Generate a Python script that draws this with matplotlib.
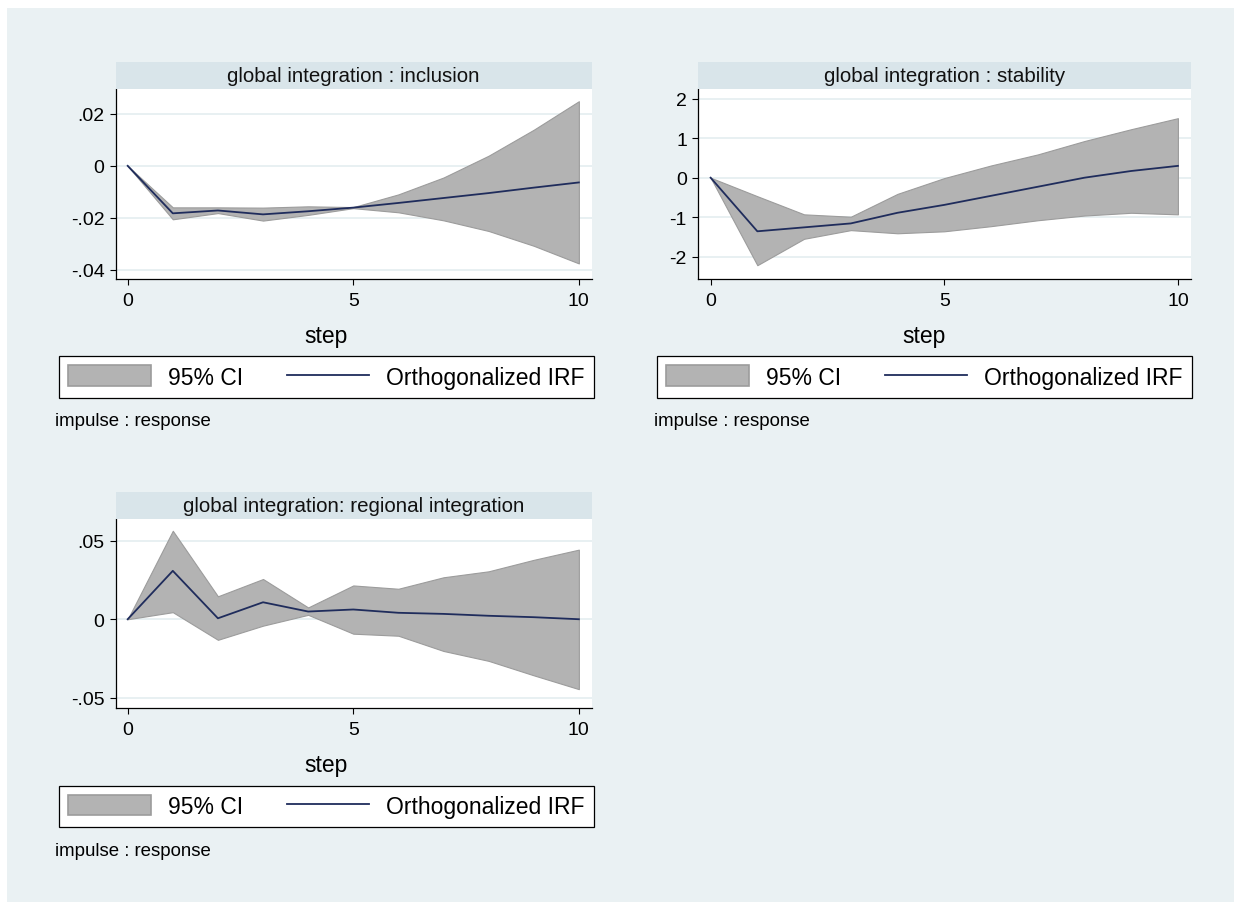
import matplotlib
matplotlib.use('Agg')
import matplotlib.pyplot as plt
from matplotlib.patches import Patch, Rectangle
from matplotlib.lines import Line2D
from matplotlib.ticker import FuncFormatter

plt.rcParams['font.family'] = ['Liberation Sans', 'DejaVu Sans']

# Datos (pasos 0..10)
steps = list(range(11))

incl_irf = [0, -0.0183, -0.0172, -0.0187, -0.0175, -0.0161, -0.0143, -0.0124, -0.0105, -0.0084, -0.0064]
incl_lo = [0, -0.0206, -0.0182, -0.0211, -0.0189, -0.0163, -0.0179, -0.0210, -0.0251, -0.0308, -0.0376]
incl_hi = [0, -0.0160, -0.0160, -0.0161, -0.0156, -0.0159, -0.0110, -0.0045, 0.0039, 0.0139, 0.0249]

stab_irf = [0, -1.36, -1.26, -1.16, -0.89, -0.69, -0.46, -0.23, 0.0, 0.17, 0.30]
stab_lo = [0, -2.22, -1.55, -1.33, -1.41, -1.36, -1.23, -1.08, -0.96, -0.89, -0.93]
stab_hi = [0, -0.47, -0.93, -0.99, -0.41, -0.01, 0.31, 0.59, 0.93, 1.23, 1.51]

reg_irf = [0, 0.0308, 0.0006, 0.0108, 0.0049, 0.0062, 0.0041, 0.0034, 0.0022, 0.0013, 0.0]
reg_lo = [0, 0.0045, -0.0131, -0.0041, 0.0028, -0.0092, -0.0105, -0.0202, -0.0265, -0.0357, -0.0445]
reg_hi = [0, 0.0563, 0.0146, 0.0256, 0.0075, 0.0215, 0.0194, 0.0267, 0.0305, 0.0378, 0.0443]

titles = ['global integration : inclusion',
          'global integration : stability',
          'global integration: regional integration']
yticks = [[-0.04, -0.02, 0, 0.02], [-2, -1, 0, 1, 2], [-0.05, 0, 0.05]]
ylims = [(-0.0436, 0.0296), (-2.57, 2.25), (-0.0565, 0.0638)]
series = [(incl_lo, incl_hi, incl_irf), (stab_lo, stab_hi, stab_irf), (reg_lo, reg_hi, reg_irf)]

# posiciones en pixeles: (x0, y0, x1, y1) del area de trazado
paneles = [(115.5, 90, 591.5, 280), (698, 90, 1191, 280), (115.5, 520, 591.5, 709)]
leyendas = [(59, 357, 594, 399), (657, 357, 1192, 399), (59, 787, 594, 828)]
notas = [(55, 420), (654, 420), (55, 850)]

W, H = 1234, 903
BG = '#eaf1f3'
STRIP = '#d9e5ea'
CI = '#b3b3b3'
CI_EDGE = '#9c9c9c'
LINEA = '#1f2c5c'


def rect(x0, y0, x1, y1):
    return [x0 / W, 1 - y1 / H, (x1 - x0) / W, (y1 - y0) / H]


def stata_fmt(v, pos):
    s = f'{v:g}'
    s = s.replace('0.', '.') if abs(v) < 1 and v != 0 else s
    return s


fig = plt.figure(figsize=(W / 100, H / 100), dpi=100)
fig.patch.set_facecolor('white')
fig.patches.append(Rectangle((7 / W, 0), 1, 1 - 9 / H, transform=fig.transFigure,
                             facecolor=BG, edgecolor='none', zorder=-10))

for i in range(3):
    x0, y0, x1, y1 = paneles[i]
    lo, hi, irf = series[i]
    lx0, ly0, lx1, ly1 = leyendas[i]

    ax = fig.add_axes(rect(x0, y0, x1, y1))
    ax.set_facecolor('white')
    ax.fill_between(steps, lo, hi, facecolor=CI, edgecolor=CI_EDGE, linewidth=0.8, zorder=2)
    ax.plot(steps, irf, color=LINEA, linewidth=1.3, zorder=3)

    ax.set_xlim(-0.27, 10.28)
    ax.set_ylim(*ylims[i])
    ax.set_xticks([0, 5, 10])
    ax.set_yticks(yticks[i])
    ax.yaxis.set_major_formatter(FuncFormatter(stata_fmt))
    ax.yaxis.grid(True, color='#e6eff1', linewidth=1.3, zorder=0)
    ax.set_axisbelow(True)
    for lado in ['top', 'right']:
        ax.spines[lado].set_visible(False)
    for lado in ['left', 'bottom']:
        ax.spines[lado].set_linewidth(0.9)
    ax.tick_params(axis='y', length=4.5, width=0.8, pad=3.5, labelsize=14)
    ax.tick_params(axis='x', length=4.5, width=0.8, pad=5, labelsize=14)
    ax.set_xlabel('step', fontsize=16.5, labelpad=11)
    # Stata centra el titulo del eje sobre todo el grafico, no solo el area de trazado
    ax.xaxis.label.set_x(((lx0 + lx1) / 2 - x0) / (x1 - x0))

    # banda del titulo
    at = fig.add_axes(rect(x0, y0 - 27, x1, y0))
    at.set_facecolor(STRIP)
    at.set_xticks([])
    at.set_yticks([])
    for sp in at.spines.values():
        sp.set_visible(False)
    at.text(0.5, 0.5, titles[i], ha='center', va='center', fontsize=14.8, color='#111111')

    # leyenda
    handles = [Patch(facecolor=CI, edgecolor=CI_EDGE, linewidth=1.2),
               Line2D([0], [0], color=LINEA, linewidth=1.3)]
    leg = fig.legend(handles, ['95% CI', 'Orthogonalized IRF'], ncol=2, loc='center',
                     bbox_to_anchor=rect(lx0, ly0, lx1, ly1), mode='expand',
                     frameon=True, fancybox=False, edgecolor='black', framealpha=1,
                     borderaxespad=0, fontsize=16.5, handlelength=3.6, handleheight=1.0,
                     handletextpad=0.75, columnspacing=1.8, borderpad=0.4)
    leg.get_frame().set_linewidth(0.9)

    nx, ny = notas[i]
    fig.text(nx / W, 1 - (ny + 2) / H, 'impulse : response', ha='left', va='center', fontsize=13.4)

fig.savefig('out.png', dpi=100, facecolor=fig.get_facecolor())
